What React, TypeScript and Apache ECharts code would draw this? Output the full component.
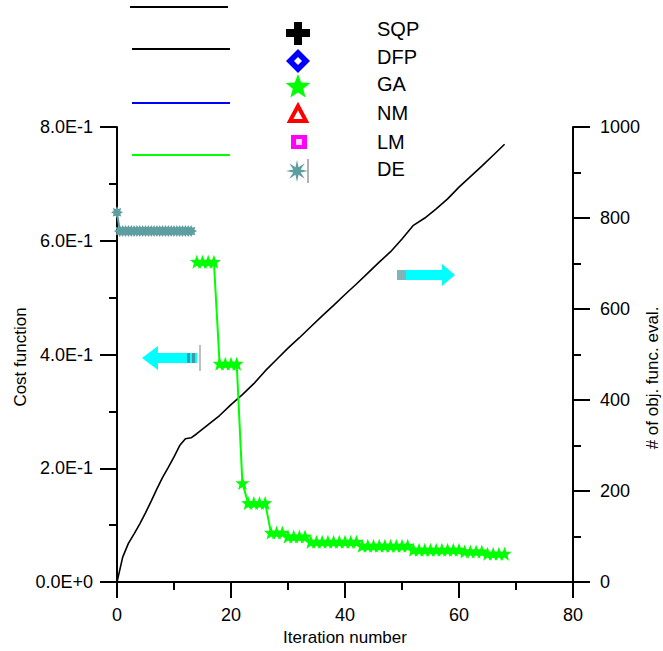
import React, { useEffect, useRef } from "react";
import * as echarts from "echarts";

// ---- Data ----
// DE (differential evolution) cost function values
const deIter = [0, 0.5, 1, 1.5, 2, 2.5, 3, 3.5, 4, 4.5, 5, 5.5, 6, 6.5, 7, 7.5, 8, 8.5, 9, 9.5, 10, 10.5, 11, 11.5, 12, 12.5, 13];
const deCost = [0.650, 0.617, 0.617, 0.617, 0.617, 0.617, 0.617, 0.617, 0.617, 0.617, 0.617, 0.617, 0.617, 0.617, 0.617, 0.617, 0.617, 0.617, 0.617, 0.617, 0.617, 0.617, 0.617, 0.617, 0.617, 0.617, 0.617];

// GA cost function values
const gaIter = [14, 15, 16, 17, 18, 19, 20, 21, 22, 23, 24, 25, 26, 27, 28, 29, 30, 31, 32, 33, 34, 35, 36, 37, 38, 39, 40, 41, 42, 43, 44, 45, 46, 47, 48, 49, 50, 51, 52, 53, 54, 55, 56, 57, 58, 59, 60, 61, 62, 63, 64, 65, 66, 67, 68];
const gaCost = [
  0.563, 0.563, 0.563, 0.563,
  0.384, 0.384, 0.384, 0.384,
  0.174,
  0.139, 0.139, 0.139, 0.139,
  0.087, 0.087, 0.087,
  0.080, 0.080, 0.080, 0.080,
  0.071, 0.071, 0.071, 0.071, 0.071, 0.071, 0.071, 0.071, 0.071,
  0.064, 0.064, 0.064, 0.064, 0.064, 0.064, 0.064, 0.064, 0.064,
  0.057, 0.057, 0.057, 0.057, 0.057, 0.057, 0.057, 0.057, 0.057,
  0.054, 0.054, 0.054, 0.054,
  0.050, 0.050, 0.050, 0.050,
];

// Number of objective function evaluations (right axis)
const evalIter = [0, 1, 2, 3, 4, 5, 6, 7, 8, 9, 10, 11, 12, 13, 14, 16, 18, 20, 22, 24, 26, 28, 30, 32, 34, 36, 38, 40, 42, 44, 46, 48, 50, 52, 54, 56, 58, 60, 62, 64, 66, 68];
const evalCount = [0, 55, 85, 106, 128, 152, 178, 205, 230, 252, 275, 300, 315, 317, 326, 346, 366, 390, 412, 436, 464, 489, 514, 537, 561, 585, 608, 632, 655, 679, 703, 726, 754, 784, 800, 820, 842, 868, 891, 914, 938, 962];

// Axis ranges / labels
const xMin = 0, xMax = 80, xStep = 20;
const costMin = 0, costMax = 0.8, costStep = 0.2;
const evalMin = 0, evalMax = 1000, evalStep = 200;
const legendNames = ["SQP", "DFP", "GA", "NM", "LM", "DE"];
const xTitle = "Iteration number";
const yLeftTitle = "Cost function";
const yRightTitle = "# of obj. func. eval.";

const FONT = "'Liberation Sans', Arial, Helvetica, sans-serif";
const DE_COLOR = "#5f9ea0";
const GA_COLOR = "#00ff00";

const STAR5 = "path://M50,0 L62,33 L98,34 L70,56 L80,92 L50,72 L20,92 L30,56 L2,34 L38,33 Z";
const STAR8 = "path://M100,50 L77.7,61.5 L85.4,85.4 L61.5,77.7 L50,100 L38.5,77.7 L14.6,85.4 L22.3,61.5 L0,50 L22.3,38.5 L14.6,14.6 L38.5,22.3 L50,0 L61.5,22.3 L85.4,14.6 L77.7,38.5 Z";

function starPoints(cx: number, cy: number, R: number, r: number, n: number, rot = -Math.PI / 2) {
  const pts: number[][] = [];
  for (let i = 0; i < n * 2; i++) {
    const rad = i % 2 === 0 ? R : r;
    const a = rot + (i * Math.PI) / n;
    pts.push([cx + rad * Math.cos(a), cy + rad * Math.sin(a)]);
  }
  return pts;
}

export default function App() {
  const ref = useRef<HTMLDivElement>(null);

  useEffect(() => {
    if (!ref.current) return;
    const chart = echarts.init(ref.current, undefined, { renderer: "svg" });
    const H = ref.current.clientHeight;
    const gridBottom = H - 587;

    const axisLineStyle = { color: "#000", width: 2 };
    const labelStyle = { color: "#000", fontSize: 18, fontFamily: FONT };

    const legendLineYs = [7, 49, 103, 155];
    const legendLineColors = ["#000", "#000", "#0000ff", GA_COLOR];
    const legendTextYs = [29, 57, 84, 113, 142, 169];

    const graphic: any[] = [];
    legendLineYs.forEach((y, i) => {
      graphic.push({
        type: "line",
        shape: { x1: i === 0 ? 130 : 132, y1: y, x2: i === 0 ? 228 : 230, y2: y },
        style: { stroke: legendLineColors[i], lineWidth: 2 },
      });
    });
    // SQP cross
    graphic.push({ type: "rect", shape: { x: 286, y: 29, width: 24, height: 8 }, style: { fill: "#000" } });
    graphic.push({ type: "rect", shape: { x: 294, y: 22, width: 8, height: 23 }, style: { fill: "#000" } });
    // DFP diamond
    graphic.push({ type: "polygon", shape: { points: [[298, 49], [310, 61], [298, 73], [286, 61]] }, style: { fill: "#0000ff" } });
    graphic.push({ type: "polygon", shape: { points: [[298, 57], [302, 61], [298, 65], [294, 61]] }, style: { fill: "#fff" } });
    // GA star
    graphic.push({ type: "polygon", shape: { points: starPoints(298, 87, 13, 5.5, 5) }, style: { fill: GA_COLOR } });
    // NM triangle
    graphic.push({ type: "polygon", shape: { points: [[298, 106], [306, 121], [290, 121]] }, style: { fill: "#fff", stroke: "#ff0000", lineWidth: 4, lineJoin: "miter" } });
    // LM square
    graphic.push({ type: "rect", shape: { x: 291, y: 135, width: 16, height: 14 }, style: { fill: "#ff00ff" } });
    graphic.push({ type: "rect", shape: { x: 296, y: 139, width: 6, height: 6 }, style: { fill: "#ffd8ff" } });
    // DE asterisk
    graphic.push({ type: "polygon", shape: { points: starPoints(297, 171, 11, 4, 8, 0) }, style: { fill: DE_COLOR } });
    graphic.push({ type: "line", shape: { x1: 308, y1: 159, x2: 308, y2: 183 }, style: { stroke: "#999", lineWidth: 1.5 } });

    legendNames.forEach((name, i) => {
      graphic.push({
        type: "text",
        x: 377,
        y: legendTextYs[i],
        style: { text: name, fill: "#000", font: `20px ${FONT}`, align: "left", verticalAlign: "middle" },
      });
    });

    // Left arrow (cost function axis)
    graphic.push({
      type: "polygon",
      shape: { points: [[142, 358], [158, 346], [158, 353], [197, 353], [197, 363], [158, 363], [158, 370]] },
      style: { fill: "#00ffff" },
    });
    graphic.push({ type: "rect", shape: { x: 187, y: 353, width: 3, height: 10 }, style: { fill: "#3a9aa8" } });
    graphic.push({ type: "rect", shape: { x: 192, y: 353, width: 3, height: 10 }, style: { fill: "#3a9aa8" } });
    graphic.push({ type: "line", shape: { x1: 200, y1: 345, x2: 200, y2: 371 }, style: { stroke: "#aaa", lineWidth: 1.5 } });

    // Right arrow (evaluations axis)
    graphic.push({
      type: "polygon",
      shape: { points: [[455, 275], [442, 264], [442, 270], [397, 270], [397, 280], [442, 280], [442, 286]] },
      style: { fill: "#00ffff" },
    });
    graphic.push({ type: "rect", shape: { x: 397, y: 270, width: 9, height: 10 }, style: { fill: "#7fb5b8" } });

    // Y axis titles
    graphic.push({
      type: "text",
      x: 20,
      y: 357,
      rotation: Math.PI / 2,
      style: { text: yLeftTitle, fill: "#000", font: `17px ${FONT}`, align: "center", verticalAlign: "middle" },
    });
    graphic.push({
      type: "text",
      x: 652,
      y: 378,
      rotation: Math.PI / 2,
      style: { text: yRightTitle, fill: "#000", font: `17px ${FONT}`, align: "center", verticalAlign: "middle" },
    });

    chart.setOption({
      animation: false,
      backgroundColor: "#fff",
      grid: { left: 117, right: 90, top: 127, bottom: gridBottom, containLabel: false },
      xAxis: {
        type: "value",
        min: xMin,
        max: xMax,
        interval: xStep,
        name: xTitle,
        nameLocation: "middle",
        nameGap: 42,
        nameTextStyle: { color: "#000", fontSize: 17, fontFamily: FONT },
        axisLine: { show: true, onZero: false, lineStyle: axisLineStyle },
        axisTick: { show: true, length: 16, lineStyle: axisLineStyle },
        minorTick: { show: true, splitNumber: 2, length: 8, lineStyle: axisLineStyle },
        splitLine: { show: false },
        axisLabel: { ...labelStyle, margin: 24 },
      },
      yAxis: [
        {
          type: "value",
          position: "left",
          min: costMin,
          max: costMax,
          interval: costStep,
          axisLine: { show: true, onZero: false, lineStyle: axisLineStyle },
          axisTick: { show: true, length: 17, lineStyle: axisLineStyle },
          minorTick: { show: true, splitNumber: 2, length: 8, lineStyle: axisLineStyle },
          splitLine: { show: false },
          axisLabel: {
            ...labelStyle,
            margin: 24,
            formatter: (v: number) => (Math.abs(v) < 1e-9 ? "0.0E+0" : (v * 10).toFixed(1) + "E-1"),
          },
        },
        {
          type: "value",
          position: "right",
          min: evalMin,
          max: evalMax,
          interval: evalStep,
          axisLine: { show: true, onZero: false, lineStyle: axisLineStyle },
          axisTick: { show: true, length: 17, lineStyle: axisLineStyle },
          minorTick: { show: true, splitNumber: 2, length: 8, lineStyle: axisLineStyle },
          splitLine: { show: false },
          axisLabel: { ...labelStyle, margin: 27, formatter: (v: number) => String(v) },
        },
      ],
      series: [
        {
          name: "evaluations",
          type: "line",
          yAxisIndex: 1,
          data: evalIter.map((x, i) => [x, evalCount[i]]),
          showSymbol: false,
          symbol: "none",
          lineStyle: { color: "#000", width: 1.6 },
          z: 2,
        },
        {
          name: "GA",
          type: "line",
          yAxisIndex: 0,
          data: gaIter.map((x, i) => [x, gaCost[i]]),
          symbol: STAR5,
          symbolSize: 14,
          itemStyle: { color: GA_COLOR },
          lineStyle: { color: GA_COLOR, width: 2 },
          z: 3,
        },
        {
          name: "DE",
          type: "line",
          yAxisIndex: 0,
          data: deIter.map((x, i) => [x, deCost[i]]),
          symbol: STAR8,
          symbolSize: 12,
          itemStyle: { color: DE_COLOR },
          lineStyle: { color: DE_COLOR, width: 2 },
          z: 3,
        },
      ],
      graphic,
    });

    return () => chart.dispose();
  }, []);

  return (
    <div
      ref={ref}
      style={{ position: "fixed", left: 0, top: 0, width: "100vw", height: "100vh", background: "#fff" }}
    />
  );
}
